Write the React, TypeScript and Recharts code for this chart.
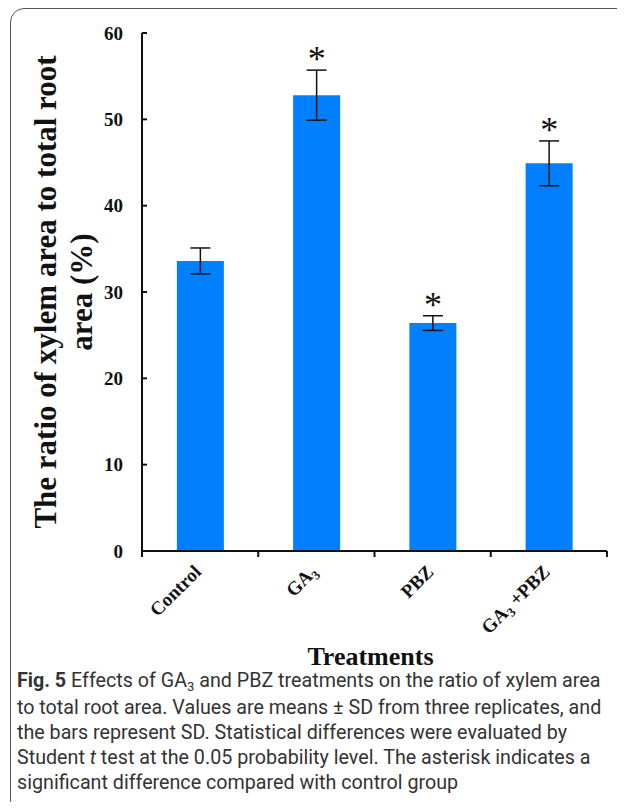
import React from "react";
import { BarChart, Bar, XAxis, YAxis, ErrorBar, LabelList } from "recharts";

const treatments = ["Control", "GA3", "PBZ", "GA3+PBZ"];
const ratioMeans = [33.6, 52.8, 26.4, 44.9];
const ratioSD = [1.5, 2.9, 0.85, 2.6];
const significant = [false, true, true, true];
const yTicks = [0, 10, 20, 30, 40, 50, 60];

const data = treatments.map((t, i) => ({
  name: t,
  ratio: ratioMeans[i],
  sd: ratioSD[i],
  sig: significant[i],
}));

const SERIF = "'Liberation Serif', 'Times New Roman', serif";

// "GA3" gets a lowered small 3, like the original figure
const renderTreatment = (label: string) => {
  if (!label.startsWith("GA3")) return label;
  const rest = label.slice(3);
  return (
    <>
      GA
      <tspan fontSize={13} dy={4}>
        3
      </tspan>
      {rest && <tspan dy={-4}>{" " + rest}</tspan>}
    </>
  );
};

const TreatmentTick = (props: any) => {
  const { x, y, payload, index, visibleTicksCount, width } = props;
  const half =
    payload.offset != null && payload.offset > 0
      ? payload.offset
      : width / visibleTicksCount / 2;
  return (
    <g>
      <line x1={x - half} x2={x - half} y1={y} y2={y + 6} stroke="#111" strokeWidth={2} />
      {index === visibleTicksCount - 1 && (
        <line x1={x + half} x2={x + half} y1={y} y2={y + 6} stroke="#111" strokeWidth={2} />
      )}
      <text
        transform={`translate(${x + 2},${y + 22}) rotate(-45)`}
        textAnchor="end"
        fontFamily={SERIF}
        fontWeight="bold"
        fontSize={19}
        fill="#111"
      >
        {renderTreatment(payload.value)}
      </text>
    </g>
  );
};

const YTitle = (props: any) => {
  const vb = props.viewBox;
  const cy = vb.y + vb.height / 2;
  const common = {
    textAnchor: "middle" as const,
    fontFamily: SERIF,
    fontWeight: "bold",
    fontSize: 31,
    fill: "#111",
  };
  return (
    <g>
      <text transform={`translate(${vb.x + 56},${cy}) rotate(-90)`} {...common}>
        The ratio of xylem area to total root
      </text>
      <text transform={`translate(${vb.x + 92},${cy}) rotate(-90)`} {...common}>
        area (%)
      </text>
    </g>
  );
};

const renderStar = (props: any) => {
  const { x, y, width, height, index } = props;
  if (!significant[index]) return null;
  const perUnit = height / ratioMeans[index];
  const top = y - ratioSD[index] * perUnit;
  return (
    <text
      x={x + width / 2}
      y={top + 1}
      textAnchor="middle"
      fontFamily={SERIF}
      fontSize={36}
      fill="#111"
    >
      *
    </text>
  );
};

const App: React.FC = () => {
  return (
    <div
      style={{
        position: "relative",
        width: 625,
        height: 810,
        margin: -8,
        overflow: "hidden",
        background: "#fff",
      }}
    >
      <div
        style={{
          position: "absolute",
          left: 10,
          top: 8,
          width: 700,
          height: 806,
          border: "1.5px solid #555",
          borderRadius: 14,
          boxSizing: "border-box",
        }}
      />
      <div style={{ position: "absolute", left: 0, top: 0 }}>
        <BarChart
          width={625}
          height={680}
          data={data}
          margin={{ top: 33, right: 18, bottom: 15, left: 0 }}
          barCategoryGap="30%"
        >
          <XAxis
            dataKey="name"
            height={114}
            tickLine={false}
            tickSize={0}
            tickMargin={0}
            interval={0}
            axisLine={{ stroke: "#111", strokeWidth: 2 }}
            tick={<TreatmentTick />}
            label={{
              value: "Treatments",
              position: "insideBottom",
              offset: 0,
              dx: -4,
              fontFamily: SERIF,
              fontWeight: "bold",
              fontSize: 26,
              fill: "#111",
            }}
          />
          <XAxis
            xAxisId="top"
            dataKey="name"
            orientation="top"
            height={0}
            tick={false}
            tickLine={false}
            axisLine={{ stroke: "#111", strokeWidth: 2 }}
          />
          <YAxis
            width={142}
            domain={[0, 60]}
            ticks={yTicks}
            tickSize={-5}
            tickMargin={24}
            axisLine={{ stroke: "#111", strokeWidth: 2 }}
            tickLine={{ stroke: "#111", strokeWidth: 2 }}
            tick={{ fontFamily: SERIF, fontWeight: "bold", fontSize: 19, fill: "#111" }}
            label={{ content: YTitle }}
          />
          <YAxis
            yAxisId="right"
            orientation="right"
            width={0}
            domain={[0, 60]}
            tick={false}
            tickLine={false}
            axisLine={{ stroke: "#111", strokeWidth: 2 }}
          />
          <Bar dataKey="ratio" fill="#0080ff" isAnimationActive={false}>
            <ErrorBar dataKey="sd" width={10} strokeWidth={1.5} stroke="#111" />
            <LabelList dataKey="sig" content={renderStar} />
          </Bar>
        </BarChart>
      </div>
      <div
        style={{
          position: "absolute",
          left: 17,
          top: 668,
          fontFamily: "Roboto, sans-serif",
          fontSize: 19.7,
          lineHeight: "25px",
          color: "#333",
          whiteSpace: "nowrap",
        }}
      >
        <div>
          <b>Fig. 5</b> Effects of GA
          <span style={{ fontSize: 13, position: "relative", top: 4 }}>3</span> and PBZ
          treatments on the ratio of xylem area
        </div>
        <div>to total root area. Values are means ± SD from three replicates, and</div>
        <div>the bars represent SD. Statistical differences were evaluated by</div>
        <div>
          Student <i>t</i> test at the 0.05 probability level. The asterisk indicates a
        </div>
        <div>significant difference compared with control group</div>
      </div>
    </div>
  );
};

export default App;
